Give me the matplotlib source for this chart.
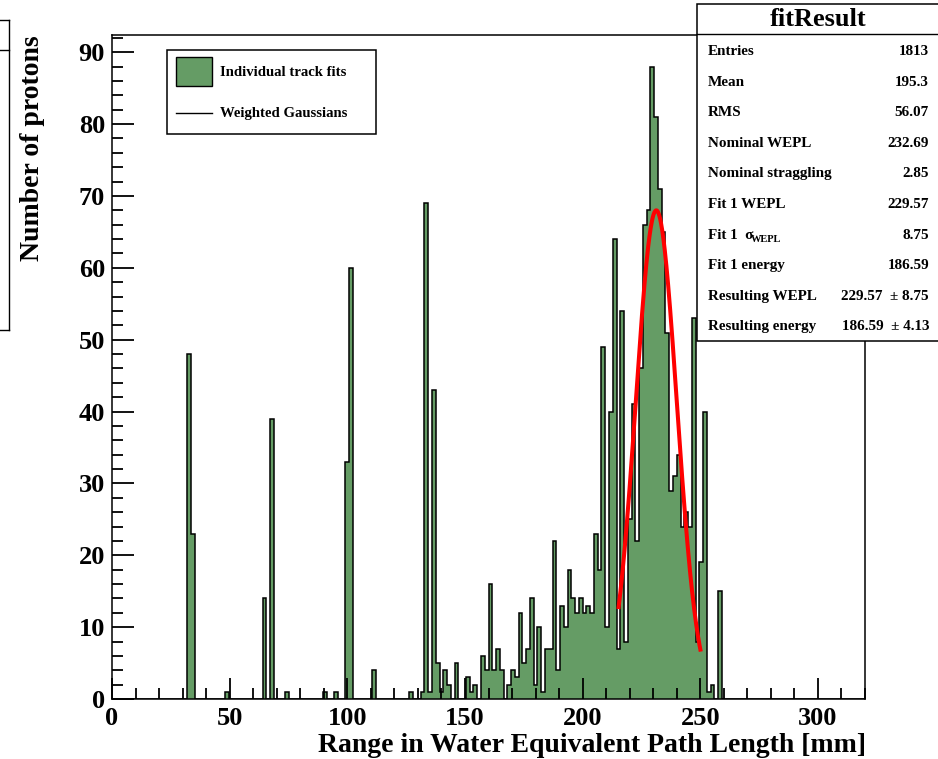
import numpy as np
import matplotlib
matplotlib.use("Agg")
import matplotlib.pyplot as plt
from matplotlib.patches import Rectangle
from matplotlib.lines import Line2D
from matplotlib.ticker import MultipleLocator

plt.rcParams['font.family'] = ['Liberation Serif', 'DejaVu Serif']
plt.rcParams['font.weight'] = 'bold'

W, H = 938, 759

N_BINS = 200
X_MAX = 320.0
Y_MAX = 92.4

# isolated bins in the low range (bin number, entries)
sparse_bins = [20, 21, 30, 40, 42, 46, 56, 59, 62, 63, 69, 79]
sparse_counts = [48, 23, 1, 14, 39, 1, 1, 1, 33, 60, 4, 1]

# contiguous part of the spectrum, starting at bin 82
dense_start = 82
dense_counts = [1, 69, 1, 43, 5, 1, 4, 2, 0, 5, 0, 0, 3, 1, 2, 0, 6, 4,
                16, 4, 7, 4, 0, 2, 4, 3, 12, 5, 7, 14, 2, 10, 1, 7, 7,
                22, 4, 13, 10, 18, 14, 12, 14, 12, 13, 12, 23, 18, 49, 10, 40, 64,
                7, 54, 8, 25, 41, 22, 46, 66, 68, 88, 81, 71, 65,
                51, 29, 31, 34, 24, 26, 24, 53, 8, 19, 40, 1, 2, 0, 15]

# drawn gaussian (as it sits on the picture)
curve_centre = 231.3
curve_sigma = 8.75
curve_amp = 68.0
curve_lo, curve_hi = 215.2, 250.2

stat_names = ["Entries", "Mean", "RMS", "Nominal WEPL", "Nominal straggling",
              "Fit 1 WEPL", "Fit 1  \u03c3", "Fit 1 energy", "Resulting WEPL",
              "Resulting energy"]
stat_values = ["1813", "195.3", "56.07", "232.69", "2.85", "229.57", "8.75",
               "186.59", "229.57  \u00b1 8.75", "186.59  \u00b1 4.13"]

hist_green = '#659c65'


def fx(px):
    return px / W


def fy(py):
    return 1 - py / H


counts = np.zeros(N_BINS)
counts[sparse_bins] = sparse_counts
counts[dense_start:dense_start + len(dense_counts)] = dense_counts
edges = np.linspace(0, X_MAX, N_BINS + 1)

fig = plt.figure(figsize=(W / 100, H / 100), dpi=100)
ax = fig.add_axes([fx(112), fy(699), fx(865) - fx(112), fy(35) - fy(699)])

ax.stairs(counts, edges, fill=True, facecolor=hist_green, edgecolor='none')
ax.stairs(counts, edges, color='black', linewidth=1.1, baseline=0)

xg = np.linspace(curve_lo, curve_hi, 200)
yg = curve_amp * np.exp(-0.5 * ((xg - curve_centre) / curve_sigma) ** 2)
ax.plot(xg, yg, color='red', linewidth=2.9, solid_capstyle='butt')

ax.set_xlim(0, X_MAX)
ax.set_ylim(0, Y_MAX)

ax.xaxis.set_major_locator(MultipleLocator(50))
ax.xaxis.set_minor_locator(MultipleLocator(10))
ax.yaxis.set_major_locator(MultipleLocator(10))
ax.yaxis.set_minor_locator(MultipleLocator(2))
ax.tick_params(axis='both', which='both', direction='in', top=False, right=False,
               width=1.3, labelsize=19)
ax.tick_params(axis='x', which='major', length=15, pad=6)
ax.tick_params(axis='x', which='minor', length=8)
ax.tick_params(axis='y', which='major', length=16, pad=5)
ax.tick_params(axis='y', which='minor', length=8)
for lab in ax.get_xticklabels() + ax.get_yticklabels():
    lab.set_fontweight('bold')
for sp in ax.spines.values():
    sp.set_linewidth(1.1)

fig.text(fx(866), fy(745), 'Range in Water Equivalent Path Length [mm]',
         ha='right', va='center', fontsize=20, fontweight='bold')
fig.text(fx(33), fy(35), 'Number of protons', rotation=90,
         ha='center', va='top', fontsize=20, fontweight='bold')

# legend
fig.patches.append(Rectangle((fx(167), fy(134)), fx(376) - fx(167), fy(50) - fy(134),
                             transform=fig.transFigure, facecolor='white',
                             edgecolor='black', linewidth=1.1, zorder=5))
fig.patches.append(Rectangle((fx(176), fy(86)), fx(212) - fx(176), fy(57) - fy(86),
                             transform=fig.transFigure, facecolor=hist_green,
                             edgecolor='black', linewidth=1.0, zorder=6))
fig.lines.append(Line2D([fx(176), fx(212)], [fy(113), fy(113)],
                        transform=fig.transFigure, color='black', linewidth=1.0, zorder=6))
fig.text(fx(220), fy(72), 'Individual track fits', ha='left', va='center',
         fontsize=10.6, fontweight='bold', zorder=7)
fig.text(fx(220), fy(113), 'Weighted Gaussians', ha='left', va='center',
         fontsize=10.6, fontweight='bold', zorder=7)

# stats box
fig.patches.append(Rectangle((fx(697), fy(341)), fx(950) - fx(697), fy(4) - fy(341),
                             transform=fig.transFigure, facecolor='white',
                             edgecolor='black', linewidth=1.1, zorder=5))
fig.lines.append(Line2D([fx(697), fx(938)], [fy(34), fy(34)],
                        transform=fig.transFigure, color='black', linewidth=1.0, zorder=6))
fig.text(fx(818), fy(20), 'fitResult', ha='center', va='center',
         fontsize=19, fontweight='bold', zorder=7)
for i, (name, val) in enumerate(zip(stat_names, stat_values)):
    yrow = 51.5 + 30.6 * i
    fig.text(fx(708), fy(yrow), name, ha='left', va='center',
             fontsize=10.9, fontweight='bold', zorder=7)
    fig.text(fx(929), fy(yrow), val, ha='right', va='center',
             fontsize=10.9, fontweight='bold', zorder=7)
fig.text(fx(751), fy(240), 'WEPL', ha='left', va='center',
         fontsize=7.5, fontweight='bold', zorder=7)

# edge of a second stats box cut off on the left
for ys in ([20, 20], [50, 50], [330, 330]):
    fig.lines.append(Line2D([0, fx(9)], [fy(ys[0]), fy(ys[1])],
                            transform=fig.transFigure, color='black', linewidth=1.0))
fig.lines.append(Line2D([fx(9), fx(9)], [fy(20), fy(330)],
                        transform=fig.transFigure, color='black', linewidth=1.0))

fig.savefig('out.png', dpi=100, facecolor='white')
